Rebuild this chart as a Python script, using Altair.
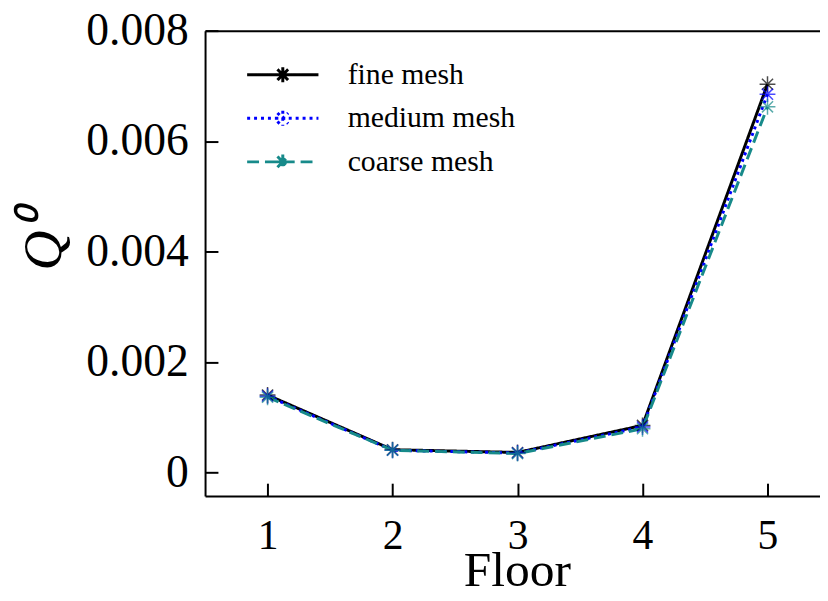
import altair as alt
import pandas as pd

floors = [1, 2, 3, 4, 5]
fine = [0.00140, 0.00041, 0.00036, 0.00085, 0.00703]
medium = [0.00138, 0.00040, 0.00035, 0.00082, 0.00685]
coarse = [0.00136, 0.00040, 0.00034, 0.00079, 0.00662]
series = ["fine mesh", "medium mesh", "coarse mesh"]
colors = ["#000000", "#0000ff", "#178a8a"]
dashes = [[1, 0], [3, 4], [12, 6]]
x_ticks = [1, 2, 3, 4, 5]
y_ticks = [0, 0.002, 0.004, 0.006, 0.008]

rows = []
for name, vals in zip(series, [fine, medium, coarse]):
    for f, v in zip(floors, vals):
        rows.append({"floor": f, "Q": v, "series": name})
df = pd.DataFrame(rows)

asterisk = "M-1,0L1,0M0,-1L0,1M-0.7,-0.7L0.7,0.7M-0.7,0.7L0.7,-0.7"
legend_sym = ("M-2.4,0L2.4,0M-0.5,0L0.5,0M0,-0.5L0,0.5"
              "M-0.36,-0.36L0.36,0.36M-0.36,0.36L0.36,-0.36")

FONT = "Liberation Serif"

xscale = alt.Scale(domain=[0.5, 5.42], nice=False, zero=False)
yscale = alt.Scale(domain=[-0.00043, 0.008], nice=False, zero=False)

color_scale = alt.Scale(domain=series, range=colors)
dash_scale = alt.Scale(domain=series, range=dashes)

legend = alt.Legend(
    title=None, orient="none", legendX=62, legendY=28,
    labelFont=FONT, labelFontSize=30, labelColor="black", labelLimit=400,
    symbolType=legend_sym, symbolSize=900, symbolStrokeWidth=3,
    labelOffset=49, rowPadding=12, padding=0,
)

inward = {"expr": "-13"}

lines = alt.Chart(df).mark_line(strokeWidth=3).encode(
    x=alt.X("floor:Q", scale=xscale,
            axis=alt.Axis(values=x_ticks, orient="bottom", title="Floor",
                          ticks=True, tickSize=inward, tickWidth=2,
                          tickColor="black",
                          labelPadding=33, labelBaseline="top",
                          labelFontSize=42,
                          titleFontSize=50, titleBaseline="alphabetic",
                          titleY=90, titleX=315, format="d")),
    y=alt.Y("Q:Q", scale=yscale,
            axis=alt.Axis(values=y_ticks, title="Q⁰",
                          ticks=True, tickSize=inward, tickWidth=2,
                          tickColor="black",
                          labelFontSize=46,
                          labelExpr="datum.value == 0 ? '0' : format(datum.value, '.3f')",
                          labelPadding=30, titleFontStyle="italic",
                          titleFontSize=56, titleAngle=-90,
                          titleX=-163, titleY=212, titleAlign="center",
                          titleBaseline="middle")),
    color=alt.Color("series:N", scale=color_scale, legend=legend, sort=series),
    strokeDash=alt.StrokeDash("series:N", scale=dash_scale, legend=legend, sort=series),
)

points = alt.Chart(df).mark_point(shape=asterisk, filled=False, size=256,
                                  strokeWidth=1.5).encode(
    x=alt.X("floor:Q", scale=xscale,
            axis=alt.Axis(orient="top", labels=False, ticks=False, grid=False,
                          title=None, domain=True)),
    y=alt.Y("Q:Q", scale=yscale),
    color=alt.Color("series:N", scale=color_scale, legend=None),
)

chart = alt.layer(lines, points).resolve_axis(x="independent").properties(
    width=621, height=470,
    autosize=alt.AutoSizeParams(type="none"),
    padding={"left": 199, "top": 20, "right": 0, "bottom": 95},
).configure_view(stroke=None).configure_axis(
    domainColor="black", domainWidth=2, grid=False,
    labelFont=FONT, labelColor="black",
    titleFont=FONT, titleColor="black", titleFontWeight="normal",
)

chart.save("out.html", embed_options={"renderer": "svg", "actions": False})
